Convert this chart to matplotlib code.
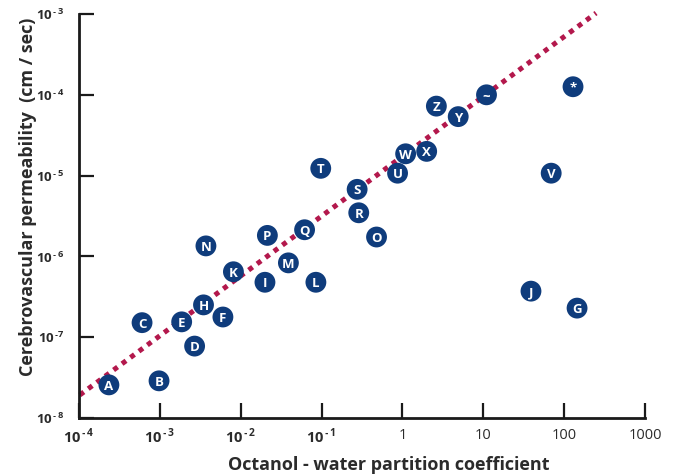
import matplotlib
matplotlib.use("Agg")
import matplotlib.pyplot as plt
import numpy as np

# data (log10 values)
labels = ['A', 'B', 'C', 'D', 'E', 'F', 'H', 'K', 'N', 'I', 'P', 'M', 'L', 'Q',
          'T', 'S', 'R', 'O', 'U', 'W', 'X', 'Z', 'Y', '~', '*', 'V', 'J', 'G']
log_partition = [-3.63, -3.01, -3.22, -2.57, -2.73, -2.22, -2.46, -2.09, -2.43,
                 -1.70, -1.67, -1.41, -1.07, -1.21, -1.01, -0.56, -0.54, -0.32,
                 -0.06, 0.04, 0.30, 0.42, 0.69, 1.04, 2.11, 1.84, 1.59, 2.16]
log_permeability = [-7.59, -7.54, -6.82, -7.11, -6.81, -6.75, -6.60, -6.19, -5.87,
                    -6.32, -5.74, -6.08, -6.32, -5.67, -4.91, -5.17, -5.46, -5.76,
                    -4.97, -4.73, -4.70, -4.14, -4.27, -4.00, -3.90, -4.97, -6.43, -6.64]
# trend line end points
fit_log_x = [-3.99, 2.395]
fit_log_y = [-7.715, -2.988]

x_ticks = [1e-4, 1e-3, 1e-2, 1e-1, 1, 10, 100, 1000]
x_exps = ['\u2010\u20094', '\u2010\u20093', '\u2010\u20092', '\u2010\u20091']
x_ticklabels = [r'$\mathbf{10}^{\,\mathbf{%s}}$' % e for e in x_exps] + ['1', '10', '100', '1000']
y_ticks = [1e-8, 1e-7, 1e-6, 1e-5, 1e-4, 1e-3]
y_exps = ['\u2010\u20098', '\u20107', '\u2010\u20096', '\u2010\u20095', '\u2010\u20094', '\u2010\u20093']
y_ticklabels = [r'$\mathbf{10}^{\,\mathbf{%s}}$' % e for e in y_exps]

plt.rcParams['font.family'] = ['Open Sans', 'DejaVu Sans']
plt.rcParams['mathtext.fontset'] = 'custom'
plt.rcParams['mathtext.rm'] = 'Open Sans'
plt.rcParams['mathtext.bf'] = 'Open Sans:bold'
plt.rcParams['mathtext.fallback'] = 'stixsans'

navy = '#0f3c7c'
crimson = '#b3184c'
text_col = '#2b2b2b'

fig = plt.figure(figsize=(6.78, 4.75), dpi=100)
ax = fig.add_axes([0.1165, 0.12, 0.8348, 0.8505])

x = 10 ** np.array(log_partition)
y = 10 ** np.array(log_permeability)

# dotted trend line
ax.plot(10 ** np.array(fit_log_x), 10 ** np.array(fit_log_y), color=crimson,
        lw=3.6, linestyle=(0, (1, 1.1)), dash_capstyle='butt', zorder=2,
        clip_on=False)

ax.scatter(x, y, s=15 ** 2, color=navy, edgecolor='none', zorder=3)
for lab, xi, yi in zip(labels, x, y):
    ax.text(xi, yi, lab, color='white', fontsize=9.5, fontweight='bold',
            ha='center', va='center_baseline', zorder=4)

ax.set_xscale('log')
ax.set_yscale('log')
ax.set_xlim(1e-4, 1e3)
ax.set_ylim(1e-8, 1e-3)
ax.minorticks_off()

ax.set_xticks(x_ticks)
ax.set_xticklabels(x_ticklabels)
ax.set_yticks(y_ticks)
ax.set_yticklabels(y_ticklabels)

for side in ['top', 'right']:
    ax.spines[side].set_visible(False)
for side in ['left', 'bottom']:
    ax.spines[side].set_linewidth(2)
    ax.spines[side].set_color('#1a1a1a')

ax.tick_params(direction='in', length=11, width=1.6, color='#1a1a1a',
               labelcolor=text_col)
ax.tick_params(axis='x', pad=7, labelsize=10.5)
ax.tick_params(axis='y', pad=10, labelsize=9.5)

ax.set_xlabel('Octanol - water partition coefficient', fontsize=13,
              fontweight='bold', color=text_col, va='center', ha='center')
ax.set_ylabel('Cerebrovascular permeability  (cm / sec)', fontsize=13,
              fontweight='bold', color=text_col, va='center', ha='center')
ax.xaxis.set_label_coords(0.548, -0.116)
ax.yaxis.set_label_coords(-0.090, 0.547)

fig.savefig('out.png', dpi=100)
